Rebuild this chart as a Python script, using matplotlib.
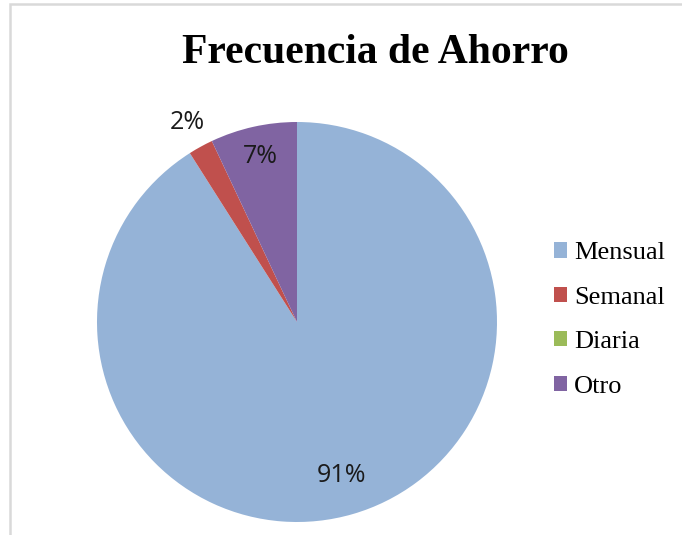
import matplotlib.pyplot as plt
import matplotlib.patches as mpatches
import numpy as np

categories = ['Mensual', 'Semanal', 'Diaria', 'Otro']
values = [91, 2, 0, 7]
colors = ['#95B3D7', '#C0504D', '#9BBB59', '#8064A2']
# radial position of each percentage label (None = not shown)
label_dist = [0.80, 1.14, None, 0.85]

fig = plt.figure(figsize=(6.82, 5.35), dpi=100)

# light grey chart frame (cropped on the right and bottom)
frame = mpatches.Rectangle((10 / 682, -0.05), 1.2, 1 - 4 / 535 + 0.05,
                           transform=fig.transFigure, fill=False,
                           edgecolor='#d9d9d9', linewidth=1.8)
fig.patches.append(frame)

ax = fig.add_axes([97 / 682, 13 / 535, 400 / 682, 400 / 535])
wedges, _ = ax.pie(values, colors=colors, startangle=90, counterclock=False,
                   radius=1.0, wedgeprops=dict(linewidth=0))
ax.set_xlim(-1, 1)
ax.set_ylim(-1, 1)
ax.set_aspect('equal')
ax.axis('off')

total = sum(values)
for w, v, d in zip(wedges, values, label_dist):
    if d is None or v == 0:
        continue
    ang = np.deg2rad((w.theta1 + w.theta2) / 2)
    ax.text(d * np.cos(ang), d * np.sin(ang), f'{v / total * 100:.0f}%',
            ha='center', va='center', fontsize=18, family='Open Sans',
            color='#1a1a1a')

fig.text(375 / 682, 1 - 53 / 535, 'Frecuencia de Ahorro', ha='center',
         va='center', fontsize=30, weight='bold', family='Liberation Serif')

handles = [mpatches.Patch(facecolor=c, edgecolor='none') for c in colors]
fig.legend(handles, categories, loc='center left',
           bbox_to_anchor=(554 / 682, 1 - 320 / 535), frameon=False,
           prop={'family': 'Liberation Serif', 'size': 19},
           handlelength=0.5, handleheight=0.5, handletextpad=0.25,
           labelspacing=0.85, borderpad=0, borderaxespad=0)

fig.savefig('out.png', dpi=100)
